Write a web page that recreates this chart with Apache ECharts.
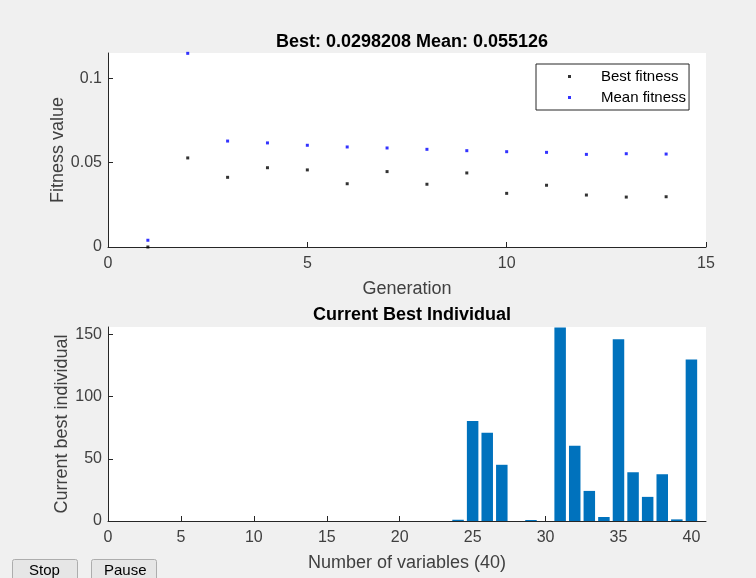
<!DOCTYPE html>
<html><head><meta charset="utf-8">
<script src="https://cdn.jsdelivr.net/npm/echarts@6/dist/echarts.min.js"></script>
<style>html,body{margin:0;padding:0;background:#f0f0f0}#c{width:756px;height:578px}</style>
</head><body><div id="c"></div>
<script>
const generations = [1,2,3,4,5,6,7,8,9,10,11,12,13,14];
const bestFitness = [0.0000,0.0528,0.0413,0.0470,0.0457,0.0375,0.0447,0.0372,0.0439,0.0318,0.0366,0.0308,0.0296,0.0298];
const meanFitness = [0.0040,0.1148,0.0628,0.0617,0.0603,0.0593,0.0587,0.0579,0.0571,0.0565,0.0561,0.0549,0.0553,0.0551];
const variableIndex = [1,2,3,4,5,6,7,8,9,10,11,12,13,14,15,16,17,18,19,20,21,22,23,24,25,26,27,28,29,30,31,32,33,34,35,36,37,38,39,40];
const individualValues = [0,0,0,0,0,0,0,0,0,0,0,0,0,0,0,0,0,0,0,0,0,0,0,1.0,80.4,71.0,45.2,0,0.8,0,155.6,60.5,24.2,3.2,146.2,39.2,19.4,37.6,1.3,129.8];
const topXTicks = [0,5,10,15];
const topYTicks = [0,0.05,0.1];
const botXTicks = [0,5,10,15,20,25,30,35,40];
const botYTicks = [0,50,100,150];

const axisCol = '#262626';
const labCol = '#404040';
const font = 'Liberation Sans, Arial, Helvetica, sans-serif';

function xAx(gi, min, max, ticks, name) {
  return {
    type: 'value', gridIndex: gi, min: min, max: max,
    name: name, nameLocation: 'middle', nameGap: 33, nameMoveOverlap: false,
    nameTextStyle: {color: labCol, fontSize: 18, fontFamily: font},
    axisLine: {show: true, lineStyle: {color: axisCol, width: 1}},
    axisTick: {show: true, inside: true, length: 5, lineStyle: {color: axisCol}, customValues: ticks},
    axisLabel: {color: labCol, fontSize: 16, fontFamily: font, margin: 9, customValues: ticks},
    splitLine: {show: false}
  };
}
function yAx(gi, min, max, ticks, name, gap) {
  return {
    type: 'value', gridIndex: gi, min: min, max: max,
    name: name, nameLocation: 'middle', nameGap: gap, nameMoveOverlap: false,
    nameTextStyle: {color: labCol, fontSize: 18, fontFamily: font},
    axisLine: {show: true, lineStyle: {color: axisCol, width: 1}},
    axisTick: {show: true, inside: true, length: 5, lineStyle: {color: axisCol}, customValues: ticks},
    axisLabel: {color: labCol, fontSize: 16, fontFamily: font, margin: 6, customValues: ticks},
    splitLine: {show: false}
  };
}

const chart = echarts.init(document.getElementById('c'), null, {renderer: 'canvas'});
chart.setOption({
  backgroundColor: '#f0f0f0',
  animation: false,
  title: [
    {text: 'Best: 0.0298208 Mean: 0.055126', left: 407, top: 28, textAlign: 'center',
     textStyle: {fontSize: 18, fontWeight: 'bold', color: '#000', fontFamily: font}},
    {text: 'Current Best Individual', left: 407, top: 301, textAlign: 'center',
     textStyle: {fontSize: 18, fontWeight: 'bold', color: '#000', fontFamily: font}}
  ],
  grid: [
    {left: 108, right: 50, top: 53, bottom: 331, show: true, backgroundColor: '#fff', borderWidth: 0},
    {left: 108, right: 50, top: 327, bottom: 57, show: true, backgroundColor: '#fff', borderWidth: 0}
  ],
  xAxis: [
    xAx(0, 0, 15, topXTicks, 'Generation'),
    xAx(1, 0, 41, botXTicks, 'Number of variables (40)')
  ],
  yAxis: [
    yAx(0, 0, 0.115, topYTicks, 'Fitness value', 41),
    yAx(1, 0, 156, botYTicks, 'Current best individual', 37)
  ],
  legend: {
    data: ['Best fitness', 'Mean fitness'],
    orient: 'vertical', left: 536, top: 64,
    backgroundColor: '#fff', borderColor: axisCol, borderWidth: 1,
    padding: [5, 3, 5, 32], itemGap: 6, itemWidth: 3, itemHeight: 3,
    textStyle: {fontSize: 15, color: '#000', fontFamily: font, padding: [0, 0, 0, 25]}
  },
  series: [
    {name: 'Best fitness', type: 'scatter', xAxisIndex: 0, yAxisIndex: 0, symbol: 'rect', symbolSize: 3,
     itemStyle: {color: '#000'}, data: generations.map((g, i) => [g, bestFitness[i]])},
    {name: 'Mean fitness', type: 'scatter', xAxisIndex: 0, yAxisIndex: 0, symbol: 'rect', symbolSize: 3,
     itemStyle: {color: '#0000ff'}, data: generations.map((g, i) => [g, meanFitness[i]])},
    {name: 'Individual', type: 'bar', xAxisIndex: 1, yAxisIndex: 1, barWidth: 11.5,
     itemStyle: {color: '#0072BD', borderWidth: 0},
     data: variableIndex.map((v, i) => [v, individualValues[i]])}
  ],
  graphic: [
    {type: 'rect', left: 12, top: 559, shape: {width: 65, height: 24, r: 2},
     style: {fill: '#e6e6e6', stroke: '#adadad', lineWidth: 1}},
    {type: 'text', left: 29, top: 563, style: {text: 'Stop', fill: '#000', font: '15px ' + font}},
    {type: 'rect', left: 91, top: 559, shape: {width: 65, height: 24, r: 2},
     style: {fill: '#e6e6e6', stroke: '#adadad', lineWidth: 1}},
    {type: 'text', left: 104, top: 563, style: {text: 'Pause', fill: '#000', font: '15px ' + font}}
  ]
});
</script></body></html>
